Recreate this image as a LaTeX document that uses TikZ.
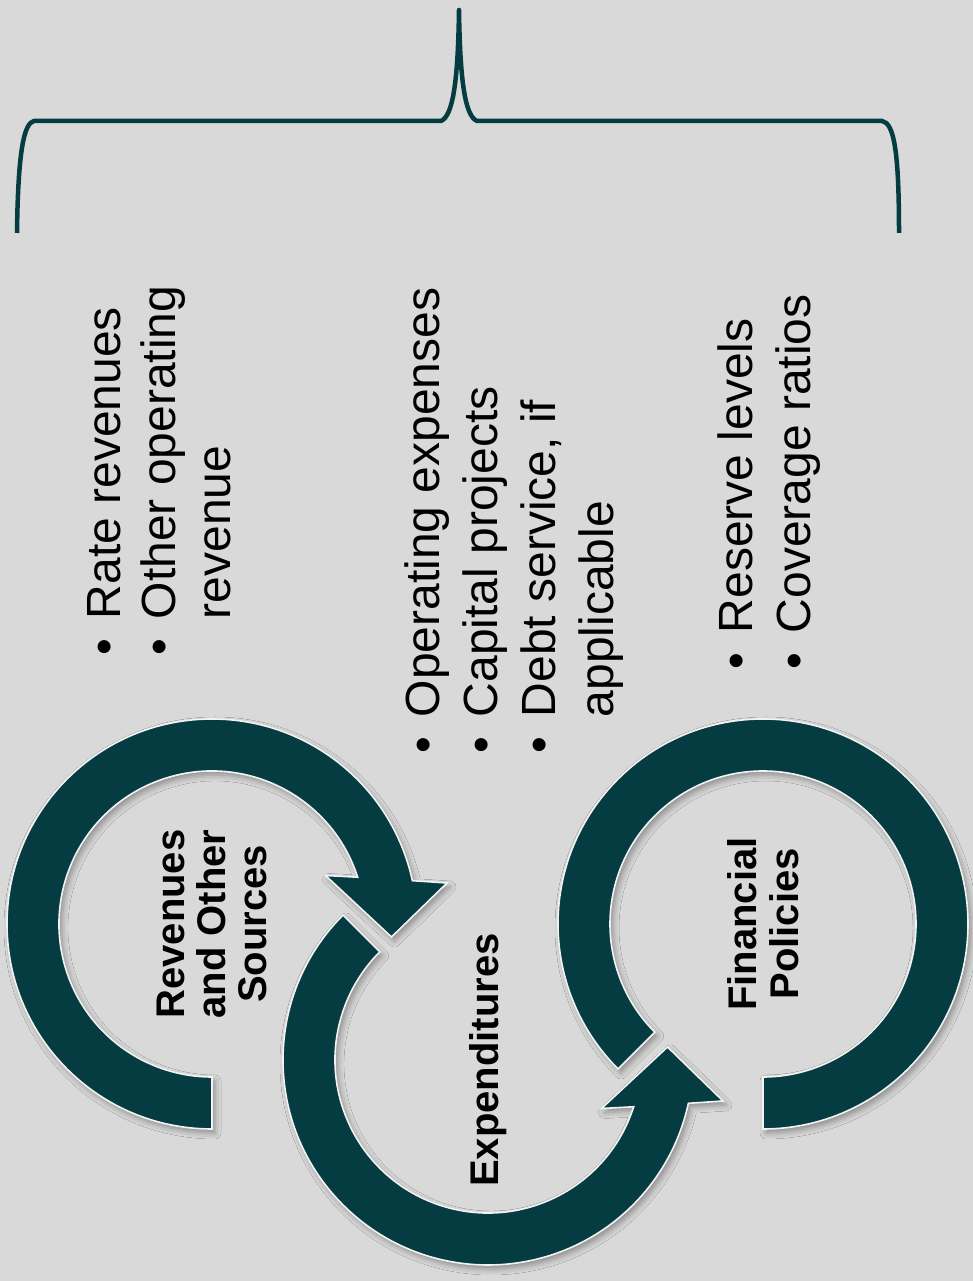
\documentclass[tikz,border=0pt]{standalone}
\usepackage{fontspec}
\setmainfont{Liberation Sans}
\usetikzlibrary{shadows.blur}

\definecolor{ringteal}{HTML}{043C41}
\definecolor{ringedge}{HTML}{F2F2F2}
\definecolor{bggray}{HTML}{D9D9D9}

% bullet followed by a hanging indent
\newcommand{\blt}{\makebox[36pt][l]{•}}
\newcommand{\hang}{\hspace*{36pt}}

\tikzset{
  ring/.style={fill=ringteal, draw=ringedge, line width=1.6pt, line join=miter,
    blur shadow={shadow xshift=3pt, shadow yshift=-4pt,
                 shadow blur radius=6pt, shadow opacity=35}},
  bracestroke/.style={draw=ringteal, line width=4.5pt, line join=round},
  bullets/.style={rotate=90, anchor=base west, inner sep=0pt,
    font=\fontsize{48}{58}\selectfont},
  hub/.style={rotate=90, inner sep=0pt, align=center,
    font=\bfseries\fontsize{40}{41.4}\selectfont},
}

\begin{document}
\begin{tikzpicture}[x=1pt, y=1pt]
  \useasboundingbox (0,0) rectangle (973,1281);
  \fill[bggray] (0,0) rectangle (973,1281);

  % curly brace spanning the three lists
  \draw[bracestroke] (17,1048) .. controls (18,1130) and (24,1158) .. (34,1160)
    -- (441,1160) .. controls (453,1165) and (458,1200) .. (459,1271)
    .. controls (460,1200) and (465,1165) .. (477,1160)
    -- (882,1160) .. controls (894,1158) and (899,1130) .. (899,1048);

  % Revenues ring: tail at the bottom, head pointing at Expenditures
  \begin{scope}[shift={(212,357)}]
    \path[ring] (270:205) arc[start angle=270, end angle=12.2, radius=205]
      -- (235,41) -- (179.5,-13) -- (113.5,48.5)
      -- (17.8:153) arc[start angle=17.8, end angle=270, radius=153] -- cycle;
  \end{scope}

  % Expenditures ring: open at the top, head pointing at Financial Policies
  \begin{scope}[shift={(488,221)}]
    \path[ring] (135:205) arc[start angle=135, end angle=347.8, radius=205]
      -- (235,-41) -- (179.5,13) -- (113.5,-48.5)
      -- (342.2:153) arc[start angle=342.2, end angle=135, radius=153] -- cycle;
  \end{scope}

  % Financial Policies ring: no head
  \begin{scope}[shift={(763,357)}]
    \path[ring] (-90:205) arc[start angle=-90, end angle=225, radius=205]
      -- (225:153) arc[start angle=225, end angle=-90, radius=153] -- cycle;
  \end{scope}

  % ring labels
  \node[hub] (rev) at (212,357) {Revenues\\and Other\\Sources};
  \node[hub] (exp) at (488,221) {Expenditures};
  \node[hub] (fin) at (763,357) {Financial\\Policies};

  % bullet lists under the brace
  \node[bullets] (revlist) at (120,625.6) {\vtop{\baselineskip=55pt
      \hbox{\blt Rate revenues}\hbox{\blt Other operating}\hbox{\hang revenue}}};
  \node[bullets] (explist) at (439,527.6) {\vtop{\baselineskip=58pt
      \hbox{\blt Operating expenses}\hbox{\blt Capital projects}%
      \hbox{\blt Debt service, if}\hbox{\hang applicable}}};
  \node[bullets] (finlist) at (752,611.6) {\vtop{\baselineskip=58pt
      \hbox{\blt Reserve levels}\hbox{\blt Coverage ratios}}};
\end{tikzpicture}
\end{document}
